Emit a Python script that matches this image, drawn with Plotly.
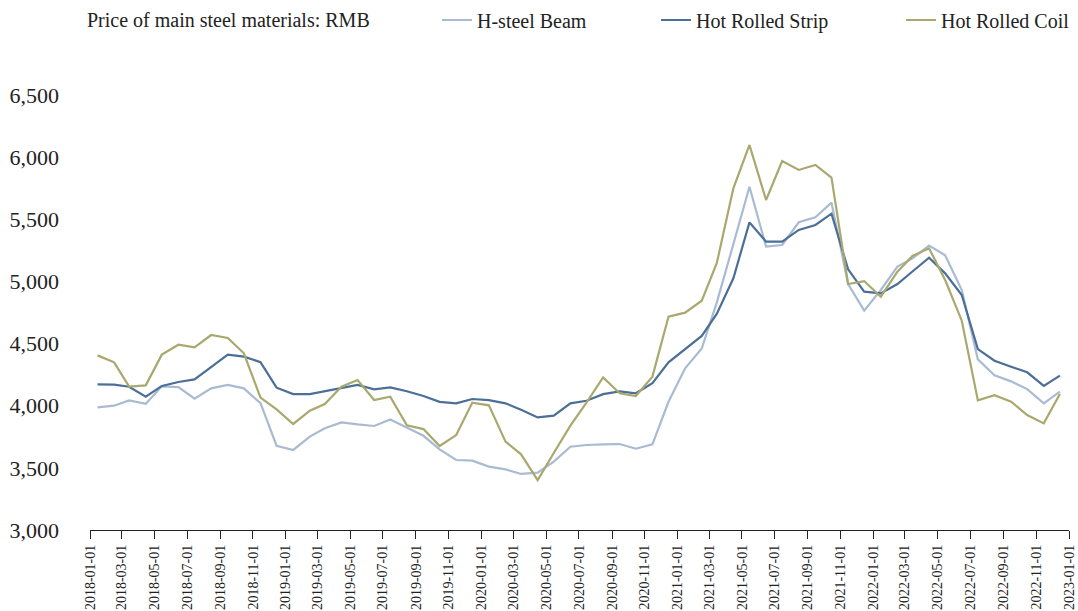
import pandas as pd
import plotly.graph_objects as go

dates = [d.strftime("%Y-%m-%d") for d in pd.date_range("2018-01-01", periods=60, freq="MS") + pd.Timedelta(days=14)]

h_steel_beam = [3987, 4000, 4043, 4016, 4156, 4150, 4056, 4140, 4167, 4140,
                4020, 3678, 3644, 3751, 3818, 3866, 3850, 3837, 3890, 3826,
                3758, 3649, 3563, 3558, 3510, 3488, 3451, 3461, 3550, 3670,
                3684, 3689, 3692, 3654, 3689, 4032, 4301, 4460, 4830, 5300,
                5762, 5280, 5293, 5476, 5516, 5634, 4979, 4765, 4931, 5119,
                5185, 5288, 5210, 4931, 4373, 4245, 4196, 4134, 4019, 4113]

hot_rolled_strip = [4172, 4169, 4153, 4073, 4159, 4191, 4212, 4314, 4411, 4395,
                    4350, 4145, 4094, 4094, 4116, 4145, 4167, 4132, 4148, 4116,
                    4078, 4031, 4019, 4054, 4045, 4019, 3968, 3906, 3920, 4019,
                    4040, 4093, 4115, 4100, 4182, 4349, 4456, 4562, 4738, 5025,
                    5475, 5320, 5320, 5414, 5454, 5545, 5097, 4918, 4904, 4979,
                    5080, 5191, 5065, 4891, 4456, 4362, 4314, 4269, 4159, 4242]

hot_rolled_coil = [4405, 4349, 4153, 4164, 4411, 4491, 4470, 4569, 4545, 4422,
                   4065, 3971, 3853, 3960, 4014, 4153, 4207, 4046, 4073, 3842,
                   3812, 3676, 3764, 4024, 4003, 3711, 3609, 3402, 3620, 3840,
                   4025, 4228, 4100, 4078, 4234, 4716, 4749, 4845, 5146, 5749,
                   6098, 5655, 5969, 5897, 5937, 5835, 4979, 5003, 4877, 5078,
                   5205, 5266, 5011, 4684, 4043, 4084, 4032, 3925, 3858, 4094]

tick_dates = [d.strftime("%Y-%m-%d") for d in pd.date_range("2018-01-01", "2023-01-01", freq="2MS")]
y_ticks = [3000, 3500, 4000, 4500, 5000, 5500, 6000, 6500]

title_text = "Price of main steel materials: RMB"
names = ["H-steel Beam", "Hot Rolled Strip", "Hot Rolled Coil"]
colors = ["#a9bbd3", "#4b6f96", "#a9a86e"]
series = [h_steel_beam, hot_rolled_strip, hot_rolled_coil]
legend_ids = ["legend", "legend2", "legend3"]

W, H = 1078, 611
L, R, T, B = 90, 9, 95, 81
pw, ph = W - L - R, H - T - B

def px_x(p):
    return (p - L) / pw

def px_y(p):
    return 1 + (T - p) / ph

FONT = "Liberation Serif"

fig = go.Figure()
for name, col, vals, lg in zip(names, colors, series, legend_ids):
    fig.add_trace(go.Scatter(x=dates, y=vals, mode="lines", name=name,
                             line=dict(color=col, width=2.2), legend=lg))

# text start targets: 478, 697, 942
leg_x = [437, 656, 901]
common_leg = dict(orientation="h", yanchor="middle", xanchor="left",
                  font=dict(family=FONT, size=20, color="#222222"),
                  bgcolor="rgba(0,0,0,0)", borderwidth=0)
layout_legends = {}
for lg, lx in zip(legend_ids, leg_x):
    layout_legends[lg] = dict(common_leg, x=px_x(lx), y=px_y(20))

fig.update_layout(
    width=W, height=H,
    margin=dict(l=L, r=R, t=T, b=B, autoexpand=False),
    paper_bgcolor="white", plot_bgcolor="white",
    font=dict(family=FONT, size=20, color="#222222"),
    showlegend=True,
    **layout_legends,
    xaxis=dict(type="date", range=["2018-01-01", "2023-01-01"],
               tickvals=tick_dates, ticktext=tick_dates, automargin=False,
               tickangle=-90, tickfont=dict(family=FONT, size=14, color="#222222"),
               showgrid=False, zeroline=False,
               showline=True, linecolor="#222222", linewidth=1.3,
               ticks="outside", ticklen=8, tickcolor="#222222", tickwidth=1.3),
    yaxis=dict(range=[3000, 6500], tickvals=y_ticks, automargin=False,
               tickformat=",d", showgrid=False, zeroline=False, showline=False,
               ticks="", ticklabelstandoff=30,
               tickfont=dict(family=FONT, size=22, color="#222222")),
    annotations=[dict(text=title_text, xref="paper", yref="paper",
                      x=px_x(85), y=px_y(20), xanchor="left", yanchor="middle",
                      showarrow=False, font=dict(family=FONT, size=20, color="#222222"))],
)

fig.write_html("out.html", config={"displayModeBar": False},
               post_script="document.body.style.margin='0';document.body.style.overflow='hidden';")
